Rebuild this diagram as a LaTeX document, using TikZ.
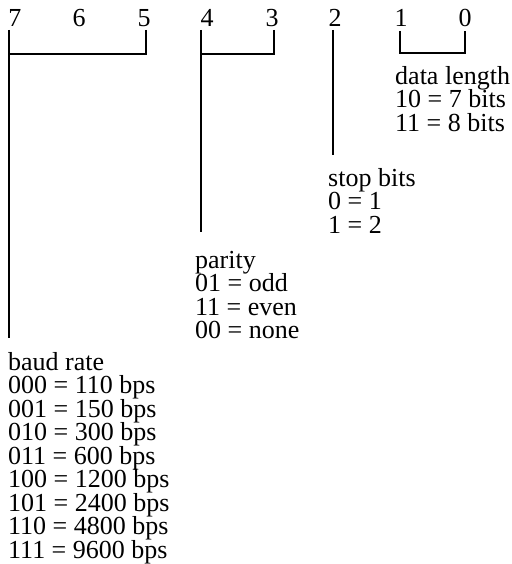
\documentclass[tikz,border=0pt]{standalone}
\usepackage{fontspec}
\setmainfont{Liberation Serif}
\newcommand{\labelfont}{\fontsize{26}{23.5}\selectfont\lineskiplimit=-30pt\lineskip=0pt\relax}
\begin{document}
\begin{tikzpicture}[x=1pt,y=-1pt,
  bitlabel/.style={font=\labelfont, inner sep=0pt, anchor=base},
  fieldtext/.style={font=\labelfont, inner sep=0pt, anchor=north west, align=left},
  wire/.style={line width=1.5pt, line cap=butt}]
\useasboundingbox (0,0) rectangle (511,564);
% bit numbers
\node[bitlabel] (n7) at (15,27) {7};
\node[bitlabel] (n6) at (79,27) {6};
\node[bitlabel] (n5) at (144,27) {5};
\node[bitlabel] (n4) at (207,27) {4};
\node[bitlabel] (n3) at (272,27) {3};
\node[bitlabel] (n2) at (335,27) {2};
\node[bitlabel] (n1) at (401,27) {1};
\node[bitlabel] (n0) at (465,27) {0};
% field texts
\node[fieldtext] (baud) at (8,352) {baud rate\\000 = 110 bps\\001 = 150 bps\\010 = 300 bps\\011 = 600 bps\\100 = 1200 bps\\101 = 2400 bps\\110 = 4800 bps\\111 = 9600 bps};
\node[fieldtext] (par) at (195,251) {parity\\01 = odd\\11 = even\\00 = none};
\node[fieldtext] (stop) at (328,168) {stop bits\\0 = 1\\1 = 2};
\node[fieldtext] (dlen) at (395,66) {data length\\10 = 7 bits\\11 = 8 bits};
% coordinates
\coordinate (t7) at (9,30);
\coordinate (e7) at (9,338);
\coordinate (t5) at (146,30);
\coordinate (t4) at (201,30);
\coordinate (e4) at (201,232);
\coordinate (t3) at (274,30);
\coordinate (t2) at (333,30);
\coordinate (e2) at (333,155);
\coordinate (t1) at (400,31);
\coordinate (t0) at (465,31);
% brackets and leaders
\draw[wire] (t5) -- (t5 |- 0,54) -- (t7 |- 0,54);
\draw[wire] (t7) -- (e7);
\draw[wire] (t3) -- (t3 |- 0,54) -- (t4 |- 0,54);
\draw[wire] (t4) -- (e4);
\draw[wire] (t2) -- (e2);
\draw[wire] (t1) -- (t1 |- 0,53) -- (t0 |- 0,53) -- (t0);
\end{tikzpicture}
\end{document}
